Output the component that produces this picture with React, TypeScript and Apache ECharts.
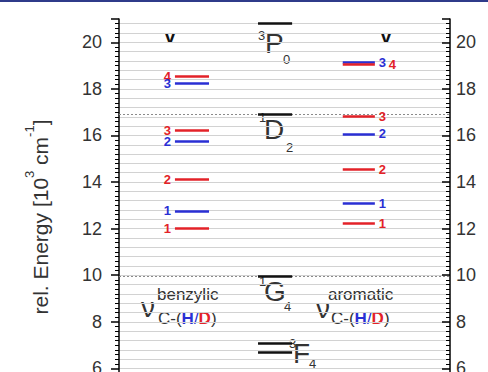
import React, { useEffect, useRef } from 'react';
import * as echarts from 'echarts';

// ---- data (10^3 cm^-1) ----
const yLabelValues = [6, 8, 10, 12, 14, 16, 18, 20];
const benzylicH = [12.76, 15.76, 18.25];
const benzylicD = [12.0, 14.11, 16.22, 18.54];
const aromaticH = [13.1, 16.07, 19.15];
const aromaticD = [12.24, 14.53, 16.83, 19.06];
const hLabels = ['1', '2', '3'];
const dLabels = ['1', '2', '3', '4'];
const prLevels = [20.8, 16.9, 9.95, 7.09, 6.69];
const refLevels = [16.9, 9.95];

const FONT = "'Liberation Sans', Arial, Helvetica, sans-serif";
const RED = '#e32228';
const BLUE = '#2a2fd4';
const GRAY = '#333333';

// column spans along the hidden x axis (0..100)
const BENZ_SPAN = [16.9, 27.2];
const PR_SPAN = [42.0, 52.3];
const AROM_SPAN = [67.6, 77.3];

function levelSeries(
  name: string,
  values: number[],
  labels: string[],
  color: string,
  span: number[],
  labelPos: string,
  others: number[] = []
) {
  return {
    type: 'line',
    name,
    data: [],
    silent: true,
    markLine: {
      silent: true,
      animation: false,
      symbol: ['none', 'none'],
      lineStyle: { color, width: 2.5, type: 'solid' },
      label: {
        show: true,
        position: labelPos,
        distance: 4,
        color,
        fontSize: 13,
        fontWeight: 'bold',
        fontFamily: FONT,
        formatter: (p: any) => p.name,
      },
      emphasis: { disabled: true },
      data: values.map((v, i) => {
        const overlap = others.some((o) => Math.abs(o - v) < 0.2);
        const first: any = { name: labels[i], coord: [span[0], v] };
        if (overlap) first.label = { padding: [0, 0, 0, 10] };
        return [first, { coord: [span[1], v] }];
      }),
    },
  };
}

function txt(text: string, x: number, y: number, fontSize: number, extra: any = {}) {
  return {
    type: 'text',
    x,
    y,
    silent: true,
    style: {
      text,
      fontSize,
      fontFamily: FONT,
      fill: GRAY,
      align: 'left',
      verticalAlign: 'middle',
      ...extra,
    },
  };
}

const hdRich = {
  g: { fontSize: 17, fontFamily: FONT, color: GRAY, fill: GRAY },
  h: { fontSize: 17, fontFamily: FONT, fontWeight: 'bold', color: BLUE, fill: BLUE },
  s: { fontSize: 17, fontFamily: FONT, color: BLUE, fill: BLUE },
  d: { fontSize: 17, fontFamily: FONT, fontWeight: 'bold', color: RED, fill: RED },
};
const HD_TEXT = '{g|C-(}{h|H}{s|/}{d|D}{g|)}';

const axisLabelFormatter = (v: number) =>
  yLabelValues.indexOf(Math.round(v * 1000) / 1000) >= 0 ? String(v) : '';

export default function App() {
  const ref = useRef<HTMLDivElement>(null);

  useEffect(() => {
    if (!ref.current) return;
    const chart = echarts.init(ref.current, null, { renderer: 'svg' });

    const baseY = {
      type: 'value',
      min: 4,
      max: 21,
      interval: 2,
      splitLine: { show: false },
    };

    const option: any = {
      animation: false,
      backgroundColor: '#ffffff',
      grid: { left: 119, right: 38, top: 19, bottom: 5, containLabel: false },
      xAxis: { type: 'value', min: 0, max: 100, show: false },
      yAxis: [
        {
          ...baseY,
          position: 'left',
          axisLine: { show: true, lineStyle: { color: '#000', width: 1.5 } },
          axisTick: { show: true, length: 8, lineStyle: { color: '#000', width: 1.5 } },
          minorTick: { show: true, splitNumber: 10, length: 4, lineStyle: { color: '#000', width: 1 } },
          axisLabel: { margin: 17, fontSize: 18, color: GRAY, fontFamily: FONT, formatter: axisLabelFormatter },
          name: 'rel. Energy [10{sup|3} cm{sup|-1}]',
          nameLocation: 'middle',
          nameRotate: 90,
          nameGap: 62,
          nameTextStyle: {
            fontSize: 21,
            color: GRAY,
            fontFamily: FONT,
            lineHeight: 34,
            rich: {
              sup: { fontSize: 13, color: GRAY, fontFamily: FONT, verticalAlign: 'top', lineHeight: 14 },
            },
          },
        },
        {
          ...baseY,
          position: 'right',
          axisLine: { show: true, lineStyle: { color: '#000', width: 1.5 } },
          axisTick: { show: true, inside: true, length: 8, lineStyle: { color: '#000', width: 1.5 } },
          minorTick: { show: true, splitNumber: 10, length: 4, lineStyle: { color: '#000', width: 1 } },
          axisLabel: { margin: 6, fontSize: 18, color: GRAY, fontFamily: FONT, formatter: axisLabelFormatter },
        },
        {
          type: 'value',
          position: 'left',
          min: 4,
          max: 21,
          interval: 0.4,
          axisLine: { show: false },
          axisTick: { show: false },
          axisLabel: { show: false },
          splitLine: { show: true, showMaxLine: false, lineStyle: { color: '#d2d2d2', width: 1 } },
        },
      ],
      series: [
        {
          type: 'line',
          name: 'ref',
          data: [],
          silent: true,
          markLine: {
            silent: true,
            animation: false,
            symbol: ['none', 'none'],
            label: { show: false },
            lineStyle: { color: '#8a8a8a', width: 1, type: [2, 2] },
            data: refLevels.map((v) => ({ yAxis: v })),
          },
        },
        levelSeries('benzD', benzylicD, dLabels, RED, BENZ_SPAN, 'start'),
        levelSeries('benzH', benzylicH, hLabels, BLUE, BENZ_SPAN, 'start'),
        levelSeries('aromH', aromaticH, hLabels, BLUE, AROM_SPAN, 'end'),
        levelSeries('aromD', aromaticD, dLabels, RED, AROM_SPAN, 'end', aromaticH),
        {
          type: 'line',
          name: 'Pr',
          data: [],
          silent: true,
          markLine: {
            silent: true,
            animation: false,
            symbol: ['none', 'none'],
            label: { show: false },
            lineStyle: { color: '#111', width: 2.5, type: 'solid' },
            data: prLevels.map((v) => [{ coord: [PR_SPAN[0], v] }, { coord: [PR_SPAN[1], v] }]),
          },
        },
      ],
      graphic: [
        { type: 'rect', silent: true, shape: { x: 0, y: 0, width: 488, height: 2 }, style: { fill: '#2f3b8a' } },
        txt('v', 170, 36, 19, { fontWeight: 'bold', fill: '#111', align: 'center' }),
        txt('v', 386, 36, 19, { fontWeight: 'bold', fill: '#111', align: 'center' }),
        // benzylic annotation
        txt('ν', 141, 307, 28),
        txt('benzylic', 157, 294, 17),
        txt(HD_TEXT, 158, 318, 17, { rich: hdRich }),
        // aromatic annotation
        txt('ν', 316, 308, 28),
        txt('aromatic', 328, 294, 17),
        txt(HD_TEXT, 331, 318, 17, { rich: hdRich }),
        // Pr3+ term symbols
        txt('3', 258, 35, 13),
        txt('P', 265, 43, 28),
        txt('0', 283, 59, 13),
        txt('1', 259, 117, 13),
        txt('D', 264, 129, 28),
        txt('2', 286, 147, 13),
        txt('1', 259, 281, 13),
        txt('G', 264, 291, 28),
        txt('4', 284, 306, 13),
        txt('3', 289, 343, 13),
        txt('F', 293, 353, 28),
        txt('4', 309, 363, 13),
      ],
    };

    chart.setOption(option);
    return () => chart.dispose();
  }, []);

  return (
    <div
      style={{
        position: 'fixed',
        left: 0,
        top: 0,
        width: 488,
        height: 372,
        overflow: 'hidden',
        background: '#fff',
      }}
    >
      <div ref={ref} style={{ width: 488, height: 420 }} />
    </div>
  );
}
